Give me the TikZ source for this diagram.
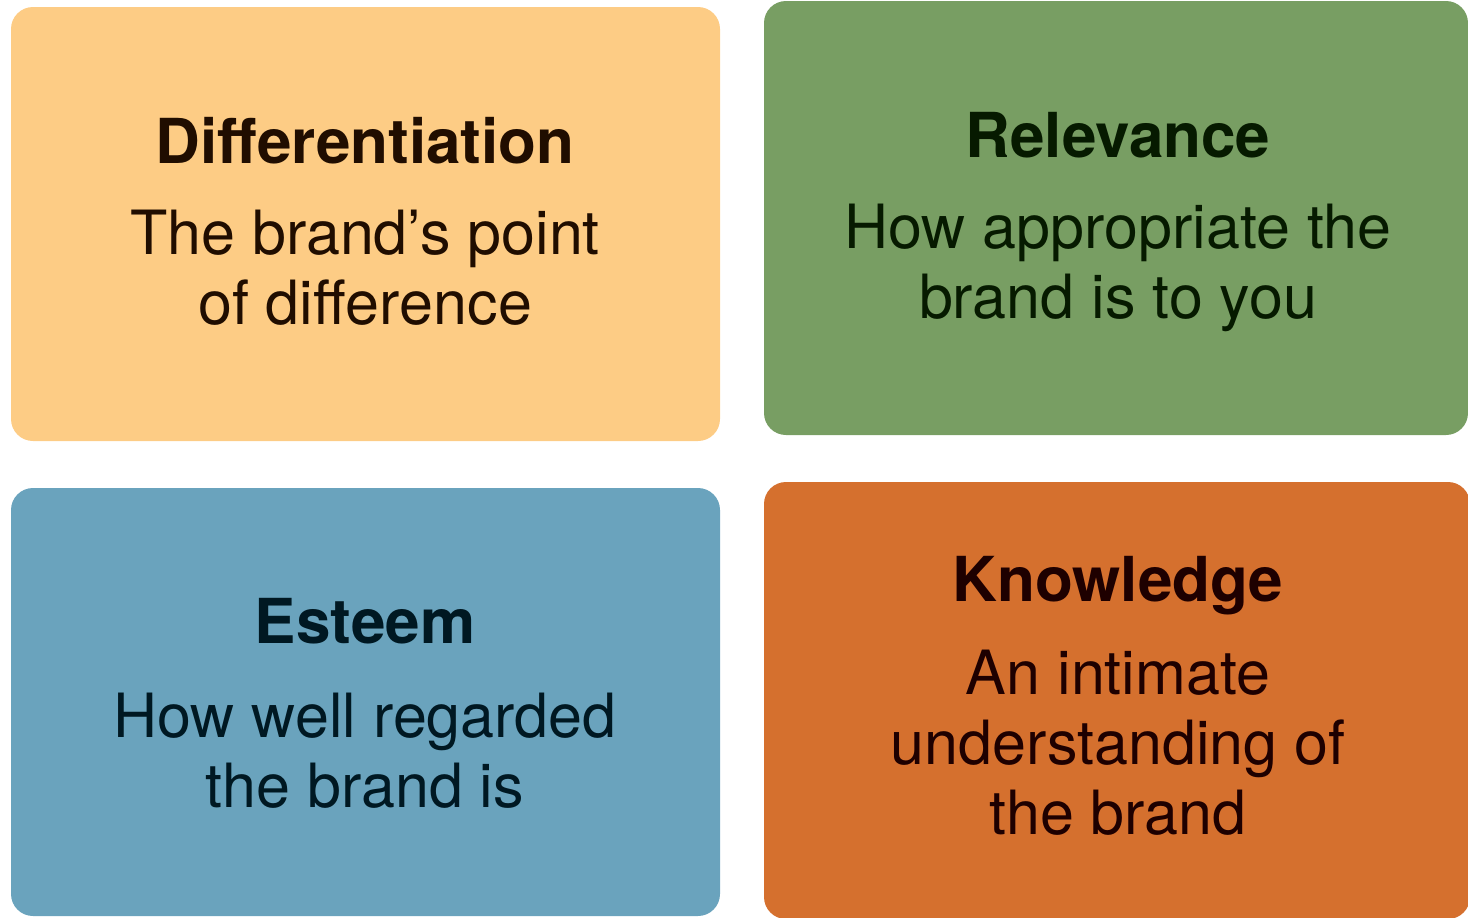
\documentclass[tikz,border=0pt]{standalone}
\usepackage{fontspec}
\setmainfont{TeX Gyre Heros}
\usepackage{tikz}
\usetikzlibrary{positioning}

\definecolor{diffbg}{HTML}{FDCC85}
\definecolor{difftx}{HTML}{200D00}
\definecolor{relbg}{HTML}{789E63}
\definecolor{reltx}{HTML}{061A00}
\definecolor{estbg}{HTML}{6AA3BD}
\definecolor{esttx}{HTML}{001822}
\definecolor{knowbg}{HTML}{D5702E}
\definecolor{knowtx}{HTML}{1E0000}

\begin{document}
\begin{tikzpicture}[x=0.5pt,y=-0.5pt,
	card/.style={rectangle, rounded corners=11pt, inner sep=0pt, outer sep=0pt, draw=none},
	cardtitle/.style={anchor=base, inner sep=0pt, font=\fontsize{31}{36}\selectfont\bfseries},
	cardtext/.style={anchor=base, inner sep=0pt, align=center, font=\fontsize{30.5}{35}\selectfont}]

	\useasboundingbox (0,0) rectangle (1468,917);
	\clip (0,0) rectangle (1468,917);

	%\fill[white] (0,0) rectangle (1468,917);
	\node[card, fill=diffbg, minimum width=354.5pt, minimum height=217pt] (diff) at (365.5,224) {};
	\node[card, fill=relbg, minimum width=352pt, minimum height=217pt] (rel) at (1116,218) {};
	\node[card, fill=estbg, minimum width=354.5pt, minimum height=214pt] (est) at (365.5,702) {};
	\node[card, fill=knowbg, minimum width=353pt, minimum height=218.5pt] (know) at (1117,700.5) {};

	% base of a multi-line text sits on its last line
	\node[cardtitle, text=difftx] (diff-t) at (365,163) {Differentiation};
	\node[cardtext, text=difftx] (diff-b) at (365,324) {The brand’s point\\of difference};

	\node[cardtitle, text=reltx] (rel-t) at (1118,157) {Relevance};
	\node[cardtext, text=reltx] (rel-b) at (1118,318) {How appropriate the\\brand is to you};

	\node[cardtitle, text=esttx] (est-t) at (365,643) {Esteem};
	\node[cardtext, text=esttx] (est-b) at (365,807) {How well regarded\\the brand is};

	\node[cardtitle, text=knowtx] (know-t) at (1118,601) {Knowledge};
	\node[cardtext, text=knowtx] (know-b) at (1118,834) {An intimate\\understanding of\\the brand};

\end{tikzpicture}
\end{document}
